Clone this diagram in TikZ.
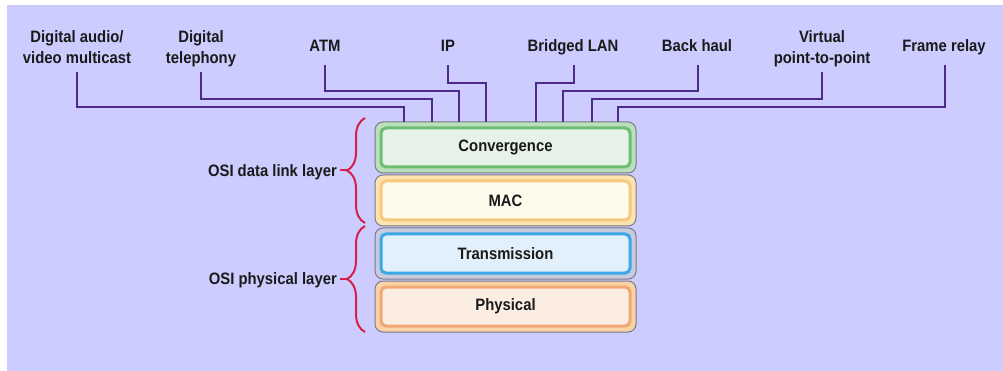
\documentclass[tikz,border=0pt]{standalone}
\usepackage{fontspec}
\setmainfont{Liberation Sans}[FakeStretch=0.9]
\usetikzlibrary{decorations.pathreplacing}

\definecolor{bgcol}{RGB}{204,204,255}
\definecolor{linkcol}{RGB}{78,42,138}
\definecolor{bracecol}{RGB}{214,32,76}
\definecolor{boxedge}{RGB}{122,122,138}
\definecolor{txtcol}{RGB}{26,26,26}
\definecolor{convband}{RGB}{185,224,186}
\definecolor{convline}{RGB}{108,190,115}
\definecolor{convfill}{RGB}{230,241,231}
\definecolor{macband}{RGB}{252,227,176}
\definecolor{macline}{RGB}{245,201,126}
\definecolor{macfill}{RGB}{255,251,236}
\definecolor{trband}{RGB}{200,203,224}
\definecolor{trline}{RGB}{59,167,230}
\definecolor{trfill}{RGB}{226,240,251}
\definecolor{phband}{RGB}{249,210,166}
\definecolor{phline}{RGB}{241,168,117}
\definecolor{phfill}{RGB}{252,237,226}

\tikzset{
  lab/.style={font=\fontsize{16.5}{21}\selectfont\bfseries, text=txtcol,
              align=center, inner sep=0pt, anchor=south},
  side/.style={font=\fontsize{16.5}{21}\selectfont\bfseries, text=txtcol,
               inner sep=0pt, anchor=east},
  conn/.style={draw=linkcol, line width=2pt},
  bracestyle/.style={draw=bracecol, line width=2pt},
  layerbox/.style n args={3}{draw=boxedge, line width=1pt, rounded corners=8pt,
    minimum width=261pt, minimum height=51pt, outer sep=0pt, fill=#1,
    font=\fontsize{16.5}{21}\selectfont\bfseries, text=txtcol,
    path picture={\draw[draw=#2, line width=3pt, fill=#3, rounded corners=5pt]
      ([xshift=6pt,yshift=-6pt]path picture bounding box.north west) rectangle
      ([xshift=-6pt,yshift=6pt]path picture bounding box.south east);}},
}

\begin{document}
\begin{tikzpicture}[x=1pt,y=-1pt]
\useasboundingbox (0,0) rectangle (1003,371);
\fill[bgcol] (7,5) rectangle (1003,371);

% protocol stack
\node[layerbox={convband}{convline}{convfill}] (conv) at (505.5,147.5) {Convergence};
\node[layerbox={macband}{macline}{macfill}]   (mac)  at (505.5,200.5) {MAC};
\node[layerbox={trband}{trline}{trfill}]      (trans) at (505.5,253.5) {Transmission};
\node[layerbox={phband}{phline}{phfill}]      (phys) at (505.5,306.5) {Physical};

% services on top of the convergence sublayer
\node[lab] (l1) at (77,67.5)  {Digital audio/\\video multicast\vphantom{y}};
\node[lab] (l2) at (201,67.5) {Digital\\telephony\vphantom{y}};
\node[lab] (l3) at (325,55.5) {ATM\vphantom{y}};
\node[lab] (l4) at (448,55.5) {IP\vphantom{y}};
\node[lab] (l5) at (573,55.5) {Bridged LAN\vphantom{y}};
\node[lab] (l6) at (697,55.5) {Back haul\vphantom{y}};
\node[lab] (l7) at (822,67.5) {Virtual\\point-to-point\vphantom{y}};
\node[lab] (l8) at (944,55.5) {Frame relay\vphantom{y}};

\draw[conn] (l1.south) ++(0,4.5) -- ++(0,35) -| ([xshift=-101.5pt]conv.north);
\draw[conn] (l2.south) ++(0,4.5) -- ++(0,27) -| ([xshift=-73.5pt]conv.north);
\draw[conn] (l3.south) ++(0,9.5) -- ++(0,26) -| ([xshift=-46.5pt]conv.north);
\draw[conn] (l4.south) ++(0,9.5) -- ++(0,18) -| ([xshift=-19.5pt]conv.north);
\draw[conn] (l5.south) ++(1,9.5) -- ++(0,18) -| ([xshift=30.5pt]conv.north);
\draw[conn] (l6.south) ++(1,9.5) -- ++(0,26) -| ([xshift=57.5pt]conv.north);
\draw[conn] (l7.south) ++(0,4.5) -- ++(0,27) -| ([xshift=86.5pt]conv.north);
\draw[conn] (l8.south) ++(1,9.5) -- ++(0,42) -| ([xshift=112.5pt]conv.north);

% OSI layer braces
\coordinate (b1s) at (365,223);
\coordinate (b1e) at (365,118);
\coordinate (b2s) at (365,332);
\coordinate (b2e) at (365,226);
\coordinate (t1) at (347,170.5);
\coordinate (t2) at (347,279);
\draw[bracestyle, decorate, decoration={brace, amplitude=18pt}] (b1s) -- (b1e);
\draw[bracestyle, decorate, decoration={brace, amplitude=18pt}] (b2s) -- (b2e);
\node[side] (s1) at (337,172) {OSI data link layer};
\node[side] (s2) at (337,280) {OSI physical layer};
\draw[bracestyle] (t1) -- ++(-7,0);
\draw[bracestyle] (t2) -- ++(-7,0);
\end{tikzpicture}
\end{document}
